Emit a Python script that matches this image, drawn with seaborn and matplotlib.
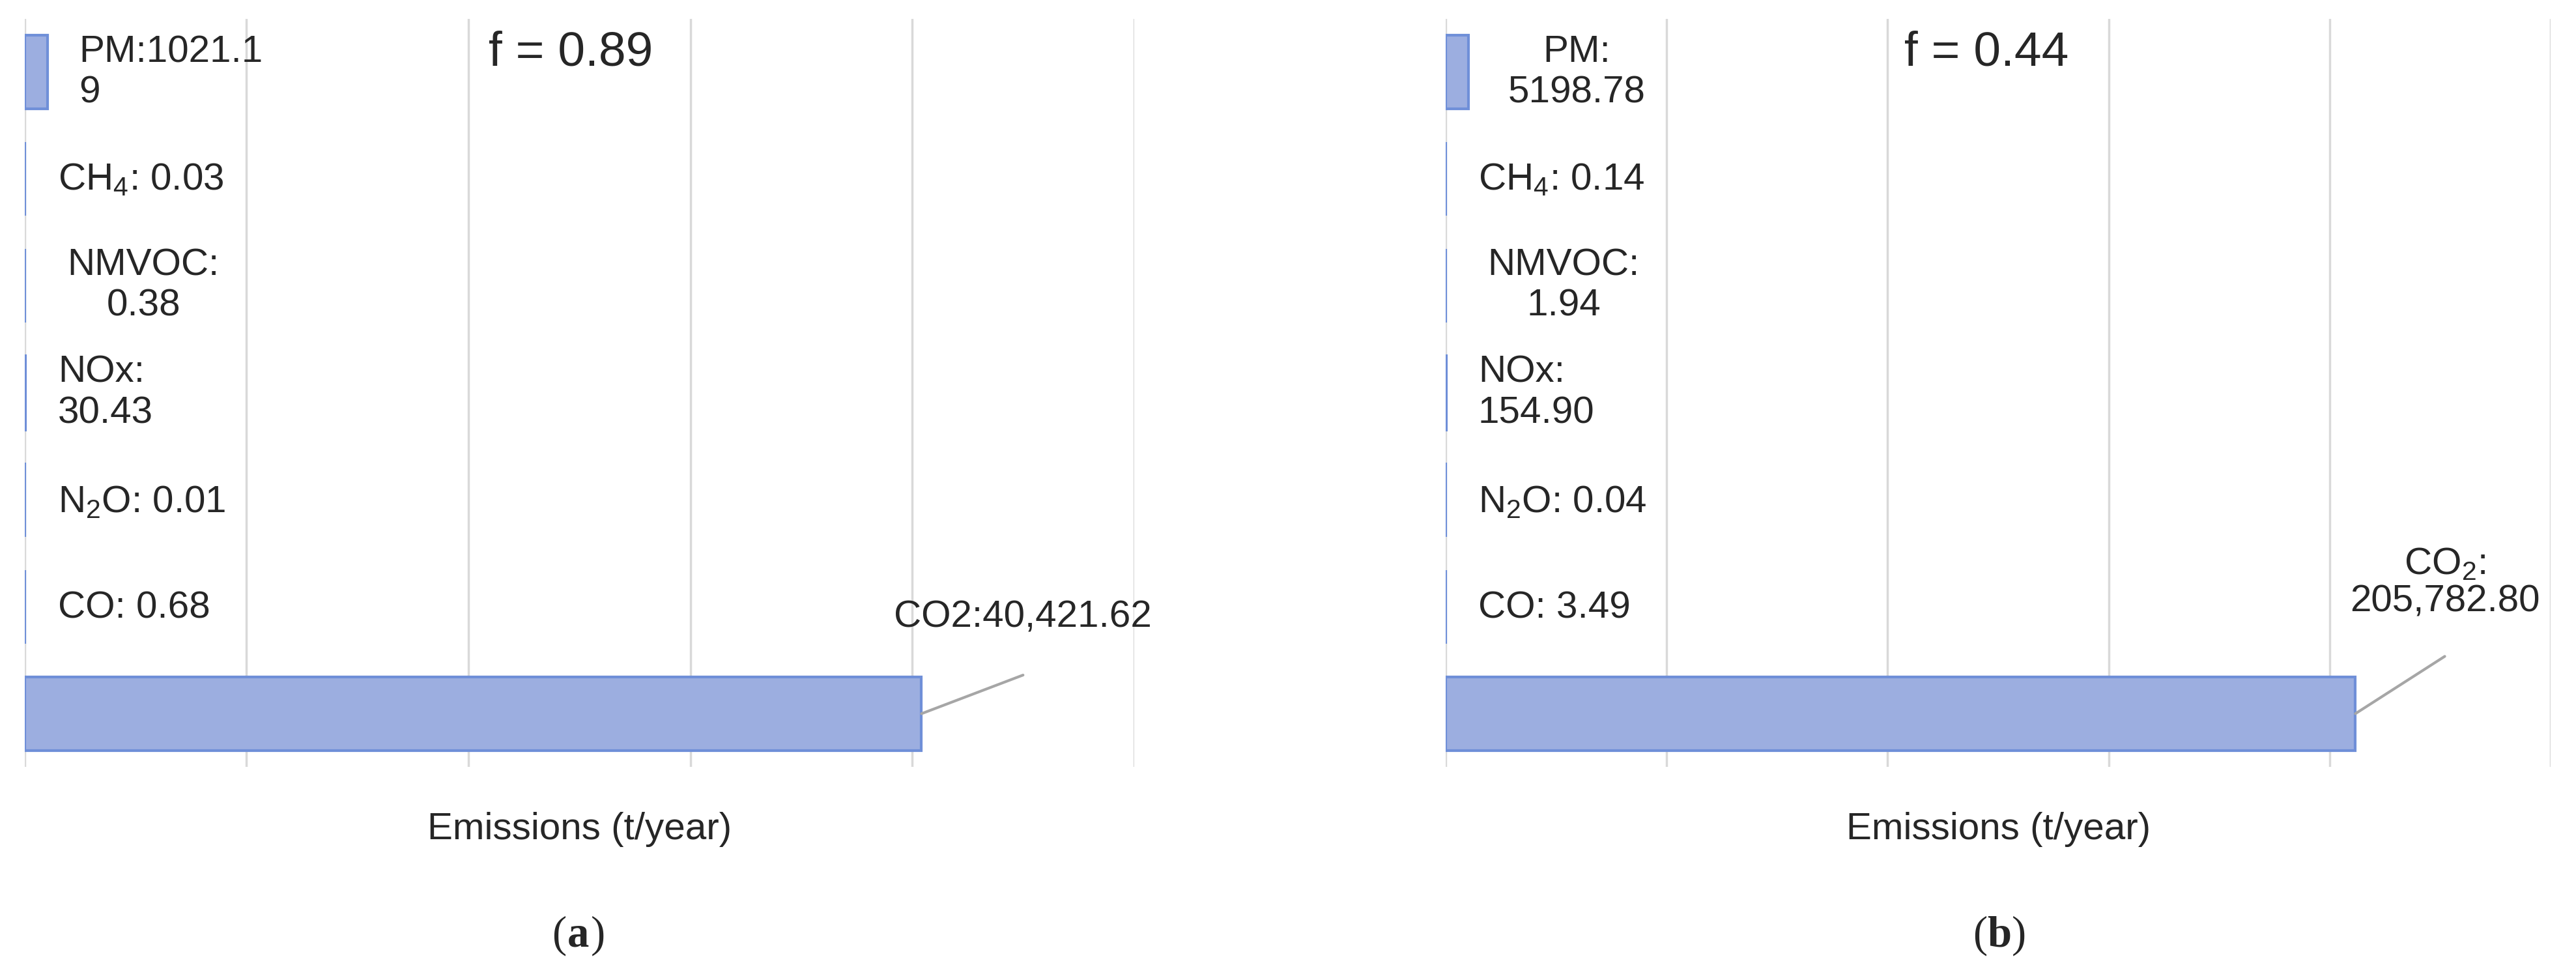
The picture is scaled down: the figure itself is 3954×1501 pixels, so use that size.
import matplotlib
matplotlib.use("Agg")
import matplotlib.pyplot as plt
import seaborn as sns
import pandas as pd

# --- data ---
categories = ["PM", "CH4", "NMVOC", "NOx", "N2O", "CO", "CO2"]
values_a = [1021.19, 0.03, 0.38, 30.43, 0.01, 0.68, 40421.62]
values_b = [5198.78, 0.14, 1.94, 154.90, 0.04, 3.49, 205782.80]
labels_a = ["PM:1021.1\n9", "CH$_4$: 0.03", "NMVOC:\n0.38", "NOx:\n30.43",
            "N$_2$O: 0.01", "CO: 0.68", "CO2:40,421.62"]
labels_b = ["PM:\n5198.78", "CH$_4$: 0.14", "NMVOC:\n1.94", "NOx:\n154.90",
            "N$_2$O: 0.04", "CO: 3.49", "CO$_2$:\n205,782.80"]
f_a, f_b = 0.89, 0.44
xmax_a, xmax_b = 50000, 250000

sns.set_theme(style="white")
plt.rcParams['font.family'] = ['Liberation Sans', 'DejaVu Sans']
plt.rcParams['mathtext.fontset'] = 'custom'
plt.rcParams['mathtext.rm'] = 'Liberation Sans'
plt.rcParams['mathtext.default'] = 'regular'

BAR = "#9caee0"
EDGE = "#6f8fd8"
FS = 42

fig = plt.figure(figsize=(39.55, 15.01), dpi=100)
ax_a = fig.add_axes([0.0096, 0.2156, 0.4305, 0.7654])
ax_b = fig.add_axes([0.561, 0.2156, 0.429, 0.7654])


def draw_panel(ax, values, labels, f, xmax, pos):
    df = pd.DataFrame({"cat": categories, "val": values})
    sns.barplot(data=df, x="val", y="cat", orient="h", color=BAR, saturation=1,
                width=0.69, edgecolor=EDGE, linewidth=3, ax=ax)
    ax.set_xlim(0, xmax)
    ax.set_ylim(6.5, -0.5)
    ax.set_xticks([xmax / 5 * i for i in range(6)])
    ax.set_xticklabels([])
    ax.set_yticks([])
    ax.set_ylabel("")
    ax.grid(axis="x", color="#d9d9d9", linewidth=2.5)
    ax.set_axisbelow(True)
    for s in ax.spines.values():
        s.set_visible(False)
    ax.set_xlabel("Emissions (t/year)", fontsize=FS, labelpad=40)
    ax.text(pos["f"], 0.954, f"f = {f}", transform=ax.transAxes, fontsize=54,
            ha="left", va="center")
    ys = [0.928, 0.785, 0.643, 0.5, 0.354, 0.2125]
    for i in range(6):
        x, ha = pos["lab"][i]
        ax.text(x, ys[i], labels[i], transform=ax.transAxes, fontsize=FS,
                ha=ha, va="center", linespacing=1.2, multialignment="left" if ha == "left" else "center")
    # CO2 label with leader line
    cx, cy, ly = pos["co2"]
    ax.text(cx, cy, labels[6], transform=ax.transAxes, fontsize=FS,
            ha="center", va="center", linespacing=1.1)
    ax.annotate("", xy=(values[6], 6), xycoords="data",
                xytext=(cx, ly), textcoords="axes fraction",
                arrowprops=dict(arrowstyle="-", color="#a6a6a6", lw=3,
                                shrinkA=0, shrinkB=0))


draw_panel(ax_a, values_a, labels_a, f_a, xmax_a,
           {"f": 0.418,
            "lab": [(0.049, "left"), (0.030, "left"), (0.107, "center"),
                    (0.030, "left"), (0.030, "left"), (0.030, "left")],
            "co2": (0.90, 0.20, 0.123)})
draw_panel(ax_b, values_b, labels_b, f_b, xmax_b,
           {"f": 0.415,
            "lab": [(0.1185, "center"), (0.0296, "left"), (0.107, "center"),
                    (0.0296, "left"), (0.0296, "left"), (0.0296, "left")],
            "co2": (0.904, 0.246, 0.148)})

# captions
for cx, letter in [(0.2245, "a"), (0.776, "b")]:
    kw = dict(fontsize=48, family="Liberation Serif", va="center")
    fig.text(cx - 0.0048, 0.043, "(", ha="right", **kw)
    fig.text(cx, 0.043, letter, ha="center", weight="bold", **kw)
    fig.text(cx + 0.0048, 0.043, ")", ha="left", **kw)

fig.savefig("out.png", dpi=100)
